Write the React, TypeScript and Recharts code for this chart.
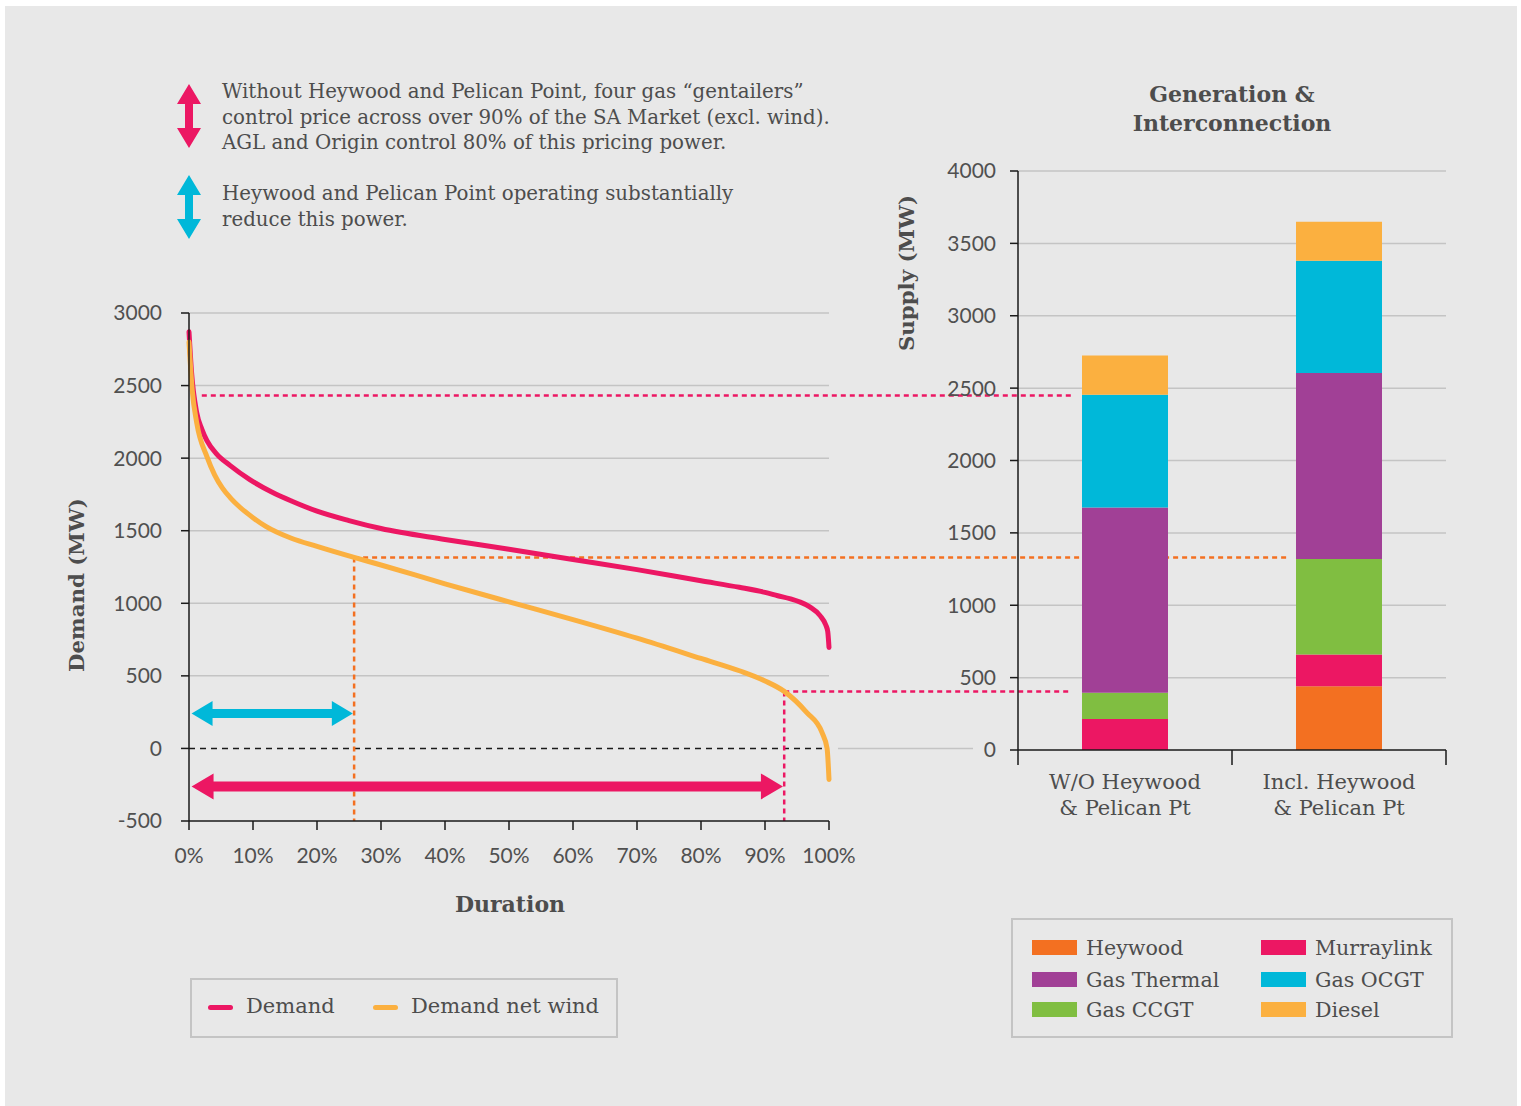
import React from 'react';
import { LineChart, Line, XAxis, YAxis, CartesianGrid, ReferenceLine, BarChart, Bar } from 'recharts';

// ---------- Load duration curve (left chart) ----------
const demandDuration = [0, 0.4, 1.2, 2, 2.8, 4.3, 6.4, 9.5, 13, 16, 20, 25, 30, 40, 50, 60, 70, 80, 86, 90, 92, 94, 95.5, 97, 98.6, 99.5, 99.8, 100];
const demandMW = [2870, 2590, 2315, 2200, 2120, 2030, 1950, 1852, 1765, 1705, 1635, 1570, 1515, 1440, 1372, 1302, 1232, 1155, 1110, 1075, 1052, 1030, 1008, 975, 915, 850, 806, 696];

const netWindDuration = [0, 0.5, 1.2, 2.8, 4, 5.2, 6.5, 8, 10, 12, 16, 20, 25.8, 30, 40, 50, 60, 70, 80, 86, 90, 93, 96.5, 98.9, 99.7, 100];
const netWindMW = [2800, 2470, 2245, 2010, 1885, 1795, 1725, 1660, 1590, 1530, 1448, 1392, 1316, 1264, 1134, 1010, 888, 760, 620, 535, 465, 393, 248, 110, 0, -214];

const demandTicks = [-500, 0, 500, 1000, 1500, 2000, 2500, 3000];
const demandGridValues = [500, 1000, 1500, 2000, 2500, 3000];
const durationTicks = [0, 10, 20, 30, 40, 50, 60, 70, 80, 90, 100];

// annotation levels (data units of the left chart)
const pinkLevelHigh = 2432;
const pinkLevelLow = 393;
const orangeLevel = 1316;
const orangeDuration = 25.8;
const pinkDuration = 93;
const pinkHighStart = 2;
const connectorEndWO = 138;
const connectorEndIncl = 171.7;
const zeroDashEnd = 98.9;
const zeroGrayStart = 101.4;
const zeroGrayEnd = 122.5;
const cyanArrowLevel = 241;
const cyanArrowFrom = 0.4;
const cyanArrowTo = 25.6;
const pinkArrowLevel = -262;
const pinkArrowFrom = 0.4;
const pinkArrowTo = 92.8;
const axisBottom = -500;

// ---------- Generation & Interconnection (right chart) ----------
const barCategories = ['W/O Heywood\n& Pelican Pt', 'Incl. Heywood\n& Pelican Pt'];
const heywood = [0, 440];
const murraylink = [215, 220];
const gasCCGT = [180, 660];
const gasThermal = [1280, 1285];
const gasOCGT = [780, 775];
const diesel = [270, 270];
const supplyTicks = [0, 500, 1000, 1500, 2000, 2500, 3000, 3500, 4000];
const supplyGridValues = [500, 1000, 1500, 2000, 2500, 3000, 3500, 4000];

const C = {
  heywood: '#f37021',
  murraylink: '#ec1763',
  thermal: '#a14096',
  ocgt: '#00b8d9',
  ccgt: '#80be41',
  diesel: '#fbb040',
  demand: '#ec1763',
  netWind: '#fbb040',
  text: '#4d4d4d',
  grid: '#c4c4c4',
  axis: '#1a1a1a',
};

const demandData = demandDuration.map((d, i) => ({ duration: d, value: demandMW[i] }));
const netWindData = netWindDuration.map((d, i) => ({ duration: d, value: netWindMW[i] }));
const barData = barCategories.map((name, i) => ({
  name,
  heywood: heywood[i],
  murraylink: murraylink[i],
  ccgt: gasCCGT[i],
  thermal: gasThermal[i],
  ocgt: gasOCGT[i],
  diesel: diesel[i],
}));

const SLAB = '"DejaVu Serif", serif';
const SANS = 'Lato, "Open Sans", sans-serif';

const doubleArrow = (color: string, shaft: number, headHalf: number, headLen: number) => (p: any) => {
  const { x1, x2, y1 } = p;
  const pts = [
    [x1, y1],
    [x1 + headLen, y1 - headHalf],
    [x1 + headLen, y1 - shaft],
    [x2 - headLen, y1 - shaft],
    [x2 - headLen, y1 - headHalf],
    [x2, y1],
    [x2 - headLen, y1 + headHalf],
    [x2 - headLen, y1 + shaft],
    [x1 + headLen, y1 + shaft],
    [x1 + headLen, y1 + headHalf],
  ];
  return <polygon points={pts.map((q) => q.join(',')).join(' ')} fill={color} />;
};

const CategoryTick = (props: any) => {
  const { x, y, payload, index, visibleTicksCount } = props;
  const w = typeof props.width === 'number' ? props.width : 428;
  const half = w / (visibleTicksCount || 2) / 2;
  const lines = String(payload.value).split('\n');
  return (
    <g>
      <line x1={x - half} x2={x - half} y1={y} y2={y + 15} stroke={C.axis} strokeWidth={1.5} />
      {index === (visibleTicksCount || 2) - 1 && (
        <line x1={x + half} x2={x + half} y1={y} y2={y + 15} stroke={C.axis} strokeWidth={1.5} />
      )}
      {lines.map((l, i) => (
        <text key={i} x={x} y={y + 39 + i * 26} textAnchor="middle" fill={C.text} fontFamily={SLAB} fontSize={21}>
          {l}
        </text>
      ))}
    </g>
  );
};

const VArrow = ({ color }: { color: string }) => (
  <svg width={26} height={64} style={{ display: 'block' }}>
    <polygon points="13,0 25,20 17,20 17,44 25,44 13,64 1,44 9,44 9,20 1,20" fill={color} />
  </svg>
);

const Swatch = ({ color }: { color: string }) => (
  <div style={{ width: 45, height: 15, background: color }} />
);

export default function App() {
  const tickStyle = { fill: '#505050', fontSize: 21, fontFamily: SANS };
  const legendItems = [
    { label: 'Heywood', color: C.heywood },
    { label: 'Murraylink', color: C.murraylink },
    { label: 'Gas Thermal', color: C.thermal },
    { label: 'Gas OCGT', color: C.ocgt },
    { label: 'Gas CCGT', color: C.ccgt },
    { label: 'Diesel', color: C.diesel },
  ];
  return (
    <div
      style={{
        position: 'absolute',
        left: 0,
        top: 0,
        width: 1521,
        height: 1106,
        background: '#ffffff',
        overflow: 'hidden',
        fontFamily: SLAB,
        color: C.text,
      }}
    >
      <div style={{ position: 'absolute', left: 5, top: 6, width: 1512, height: 1100, background: '#e8e8e8' }} />

      {/* annotations top-left */}
      <div style={{ position: 'absolute', left: 176, top: 84 }}>
        <VArrow color={C.demand} />
      </div>
      <div style={{ position: 'absolute', left: 176, top: 175 }}>
        <VArrow color={C.ocgt} />
      </div>
      <div style={{ position: 'absolute', left: 222, top: 79, fontSize: 19.8, lineHeight: '25.5px', whiteSpace: 'nowrap' }}>
        Without Heywood and Pelican Point, four gas “gentailers”
        <br />
        control price across over 90% of the SA Market (excl. wind).
        <br />
        AGL and Origin control 80% of this pricing power.
      </div>
      <div style={{ position: 'absolute', left: 222, top: 181, fontSize: 19.8, lineHeight: '25.5px', whiteSpace: 'nowrap' }}>
        Heywood and Pelican Point operating substantially
        <br />
        reduce this power.
      </div>

      {/* left chart */}
      <div style={{ position: 'absolute', left: 0, top: 0 }}>
        <LineChart width={1300} height={900} margin={{ top: 313, right: 471, bottom: 0, left: 0 }}>
          <CartesianGrid vertical={false} horizontalValues={demandGridValues} stroke={C.grid} strokeWidth={1.5} />
          <XAxis
            type="number"
            dataKey="duration"
            domain={[0, 100]}
            ticks={durationTicks}
            interval={0}
            height={79}
            tickFormatter={(v: number) => `${v}%`}
            axisLine={{ stroke: C.axis, strokeWidth: 1.5 }}
            tickLine={{ stroke: C.axis, strokeWidth: 1.5 }}
            tickSize={9}
            tickMargin={18}
            tick={tickStyle}
            allowDuplicatedCategory={false}
          />
          <YAxis
            type="number"
            domain={[-500, 3000]}
            ticks={demandTicks}
            interval={0}
            width={189}
            axisLine={{ stroke: C.axis, strokeWidth: 1.5 }}
            tickLine={{ stroke: C.axis, strokeWidth: 1.5 }}
            tickSize={8}
            tickMargin={19}
            tick={tickStyle}
          />
          <ReferenceLine
            segment={[{ x: 0, y: 0 }, { x: zeroDashEnd, y: 0 }]}
            stroke={C.axis}
            strokeWidth={1.5}
            strokeDasharray="6 5"
            ifOverflow="visible"
          />
          <ReferenceLine
            segment={[{ x: zeroGrayStart, y: 0 }, { x: zeroGrayEnd, y: 0 }]}
            stroke={C.grid}
            strokeWidth={1.5}
            ifOverflow="visible"
          />
          <ReferenceLine
            segment={[{ x: pinkHighStart, y: pinkLevelHigh }, { x: connectorEndWO, y: pinkLevelHigh }]}
            stroke={C.demand}
            strokeWidth={2.5}
            strokeDasharray="5 4"
            ifOverflow="visible"
          />
          <ReferenceLine
            segment={[{ x: orangeDuration, y: orangeLevel }, { x: connectorEndIncl, y: orangeLevel }]}
            stroke={C.heywood}
            strokeWidth={2.5}
            strokeDasharray="5 4"
            ifOverflow="visible"
          />
          <ReferenceLine
            segment={[{ x: orangeDuration, y: orangeLevel }, { x: orangeDuration, y: axisBottom }]}
            stroke={C.heywood}
            strokeWidth={2.5}
            strokeDasharray="5 4"
            ifOverflow="visible"
          />
          <ReferenceLine
            segment={[{ x: pinkDuration, y: pinkLevelLow }, { x: connectorEndWO, y: pinkLevelLow }]}
            stroke={C.demand}
            strokeWidth={2.5}
            strokeDasharray="5 4"
            ifOverflow="visible"
          />
          <ReferenceLine
            segment={[{ x: pinkDuration, y: pinkLevelLow }, { x: pinkDuration, y: axisBottom }]}
            stroke={C.demand}
            strokeWidth={2.5}
            strokeDasharray="5 4"
            ifOverflow="visible"
          />
          <ReferenceLine
            segment={[{ x: cyanArrowFrom, y: cyanArrowLevel }, { x: cyanArrowTo, y: cyanArrowLevel }]}
            ifOverflow="visible"
            shape={doubleArrow(C.ocgt, 4.5, 12.5, 21)}
          />
          <ReferenceLine
            segment={[{ x: pinkArrowFrom, y: pinkArrowLevel }, { x: pinkArrowTo, y: pinkArrowLevel }]}
            ifOverflow="visible"
            shape={doubleArrow(C.demand, 5, 13, 22)}
          />
          <Line
            data={demandData}
            dataKey="value"
            type="monotone"
            stroke={C.demand}
            strokeWidth={5}
            strokeLinecap="round"
            dot={false}
            isAnimationActive={false}
          />
          <Line
            data={netWindData}
            dataKey="value"
            type="monotone"
            stroke={C.netWind}
            strokeWidth={5}
            strokeLinecap="round"
            dot={false}
            isAnimationActive={false}
          />
        </LineChart>
      </div>

      {/* right chart */}
      <div style={{ position: 'absolute', left: 900, top: 0 }}>
        <BarChart width={560} height={850} data={barData} margin={{ top: 171, right: 14, bottom: 0, left: 0 }}>
          <CartesianGrid vertical={false} horizontalValues={supplyGridValues} stroke={C.grid} strokeWidth={1.5} />
          <XAxis
            dataKey="name"
            height={100}
            axisLine={{ stroke: C.axis, strokeWidth: 1.5 }}
            tickLine={false}
            tickSize={0}
            tickMargin={0}
            tick={<CategoryTick />}
            interval={0}
          />
          <YAxis
            type="number"
            domain={[0, 4000]}
            ticks={supplyTicks}
            interval={0}
            width={118}
            axisLine={{ stroke: C.axis, strokeWidth: 1.5 }}
            tickLine={{ stroke: C.axis, strokeWidth: 1.5 }}
            tickSize={8}
            tickMargin={14}
            tick={tickStyle}
          />
          <Bar dataKey="heywood" stackId="s" fill={C.heywood} barSize={86} isAnimationActive={false} />
          <Bar dataKey="murraylink" stackId="s" fill={C.murraylink} barSize={86} isAnimationActive={false} />
          <Bar dataKey="ccgt" stackId="s" fill={C.ccgt} barSize={86} isAnimationActive={false} />
          <Bar dataKey="thermal" stackId="s" fill={C.thermal} barSize={86} isAnimationActive={false} />
          <Bar dataKey="ocgt" stackId="s" fill={C.ocgt} barSize={86} isAnimationActive={false} />
          <Bar dataKey="diesel" stackId="s" fill={C.diesel} barSize={86} isAnimationActive={false} />
        </BarChart>
      </div>

      {/* titles */}
      <div
        style={{
          position: 'absolute',
          left: 1032,
          top: 80,
          width: 400,
          textAlign: 'center',
          fontWeight: 'bold',
          fontSize: 22,
          lineHeight: '29px',
        }}
      >
        Generation &amp;
        <br />
        Interconnection
      </div>
      <div
        style={{
          position: 'absolute',
          left: 76,
          top: 585,
          transform: 'translate(-50%, -50%) rotate(-90deg)',
          whiteSpace: 'nowrap',
          fontWeight: 'bold',
          fontSize: 21.3,
        }}
      >
        Demand (MW)
      </div>
      <div
        style={{
          position: 'absolute',
          left: 906,
          top: 273,
          transform: 'translate(-50%, -50%) rotate(-90deg)',
          whiteSpace: 'nowrap',
          fontWeight: 'bold',
          fontSize: 21.3,
        }}
      >
        Supply (MW)
      </div>
      <div
        style={{
          position: 'absolute',
          left: 510,
          top: 904,
          transform: 'translate(-50%, -50%)',
          whiteSpace: 'nowrap',
          fontWeight: 'bold',
          fontSize: 22,
        }}
      >
        Duration
      </div>

      {/* left legend */}
      <div
        style={{
          position: 'absolute',
          left: 190,
          top: 978,
          width: 428,
          height: 60,
          border: '2px solid #c4c4c4',
          boxSizing: 'border-box',
          fontSize: 21,
        }}
      >
        <div style={{ position: 'absolute', left: 16, top: 25, width: 25, height: 5, borderRadius: 3, background: C.demand }} />
        <div style={{ position: 'absolute', left: 54, top: 14, lineHeight: '24px', whiteSpace: 'nowrap' }}>Demand</div>
        <div style={{ position: 'absolute', left: 181, top: 25, width: 25, height: 5, borderRadius: 3, background: C.netWind }} />
        <div style={{ position: 'absolute', left: 219, top: 14, lineHeight: '24px', whiteSpace: 'nowrap' }}>Demand net wind</div>
      </div>

      {/* right legend */}
      <div
        style={{
          position: 'absolute',
          left: 1011,
          top: 918,
          width: 442,
          height: 120,
          border: '2px solid #c4c4c4',
          boxSizing: 'border-box',
          fontSize: 20.6,
        }}
      >
        {legendItems.map((it, i) => {
          const col = i % 2;
          const row = Math.floor(i / 2);
          const top = [30, 62, 92][row];
          return (
            <React.Fragment key={it.label}>
              <div style={{ position: 'absolute', left: (col ? 250 : 21) - 2, top: top - 8 - 2 }}>
                <Swatch color={it.color} />
              </div>
              <div
                style={{
                  position: 'absolute',
                  left: (col ? 304 : 75) - 2,
                  top: top - 12 - 2,
                  lineHeight: '24px',
                  whiteSpace: 'nowrap',
                }}
              >
                {it.label}
              </div>
            </React.Fragment>
          );
        })}
      </div>
    </div>
  );
}
